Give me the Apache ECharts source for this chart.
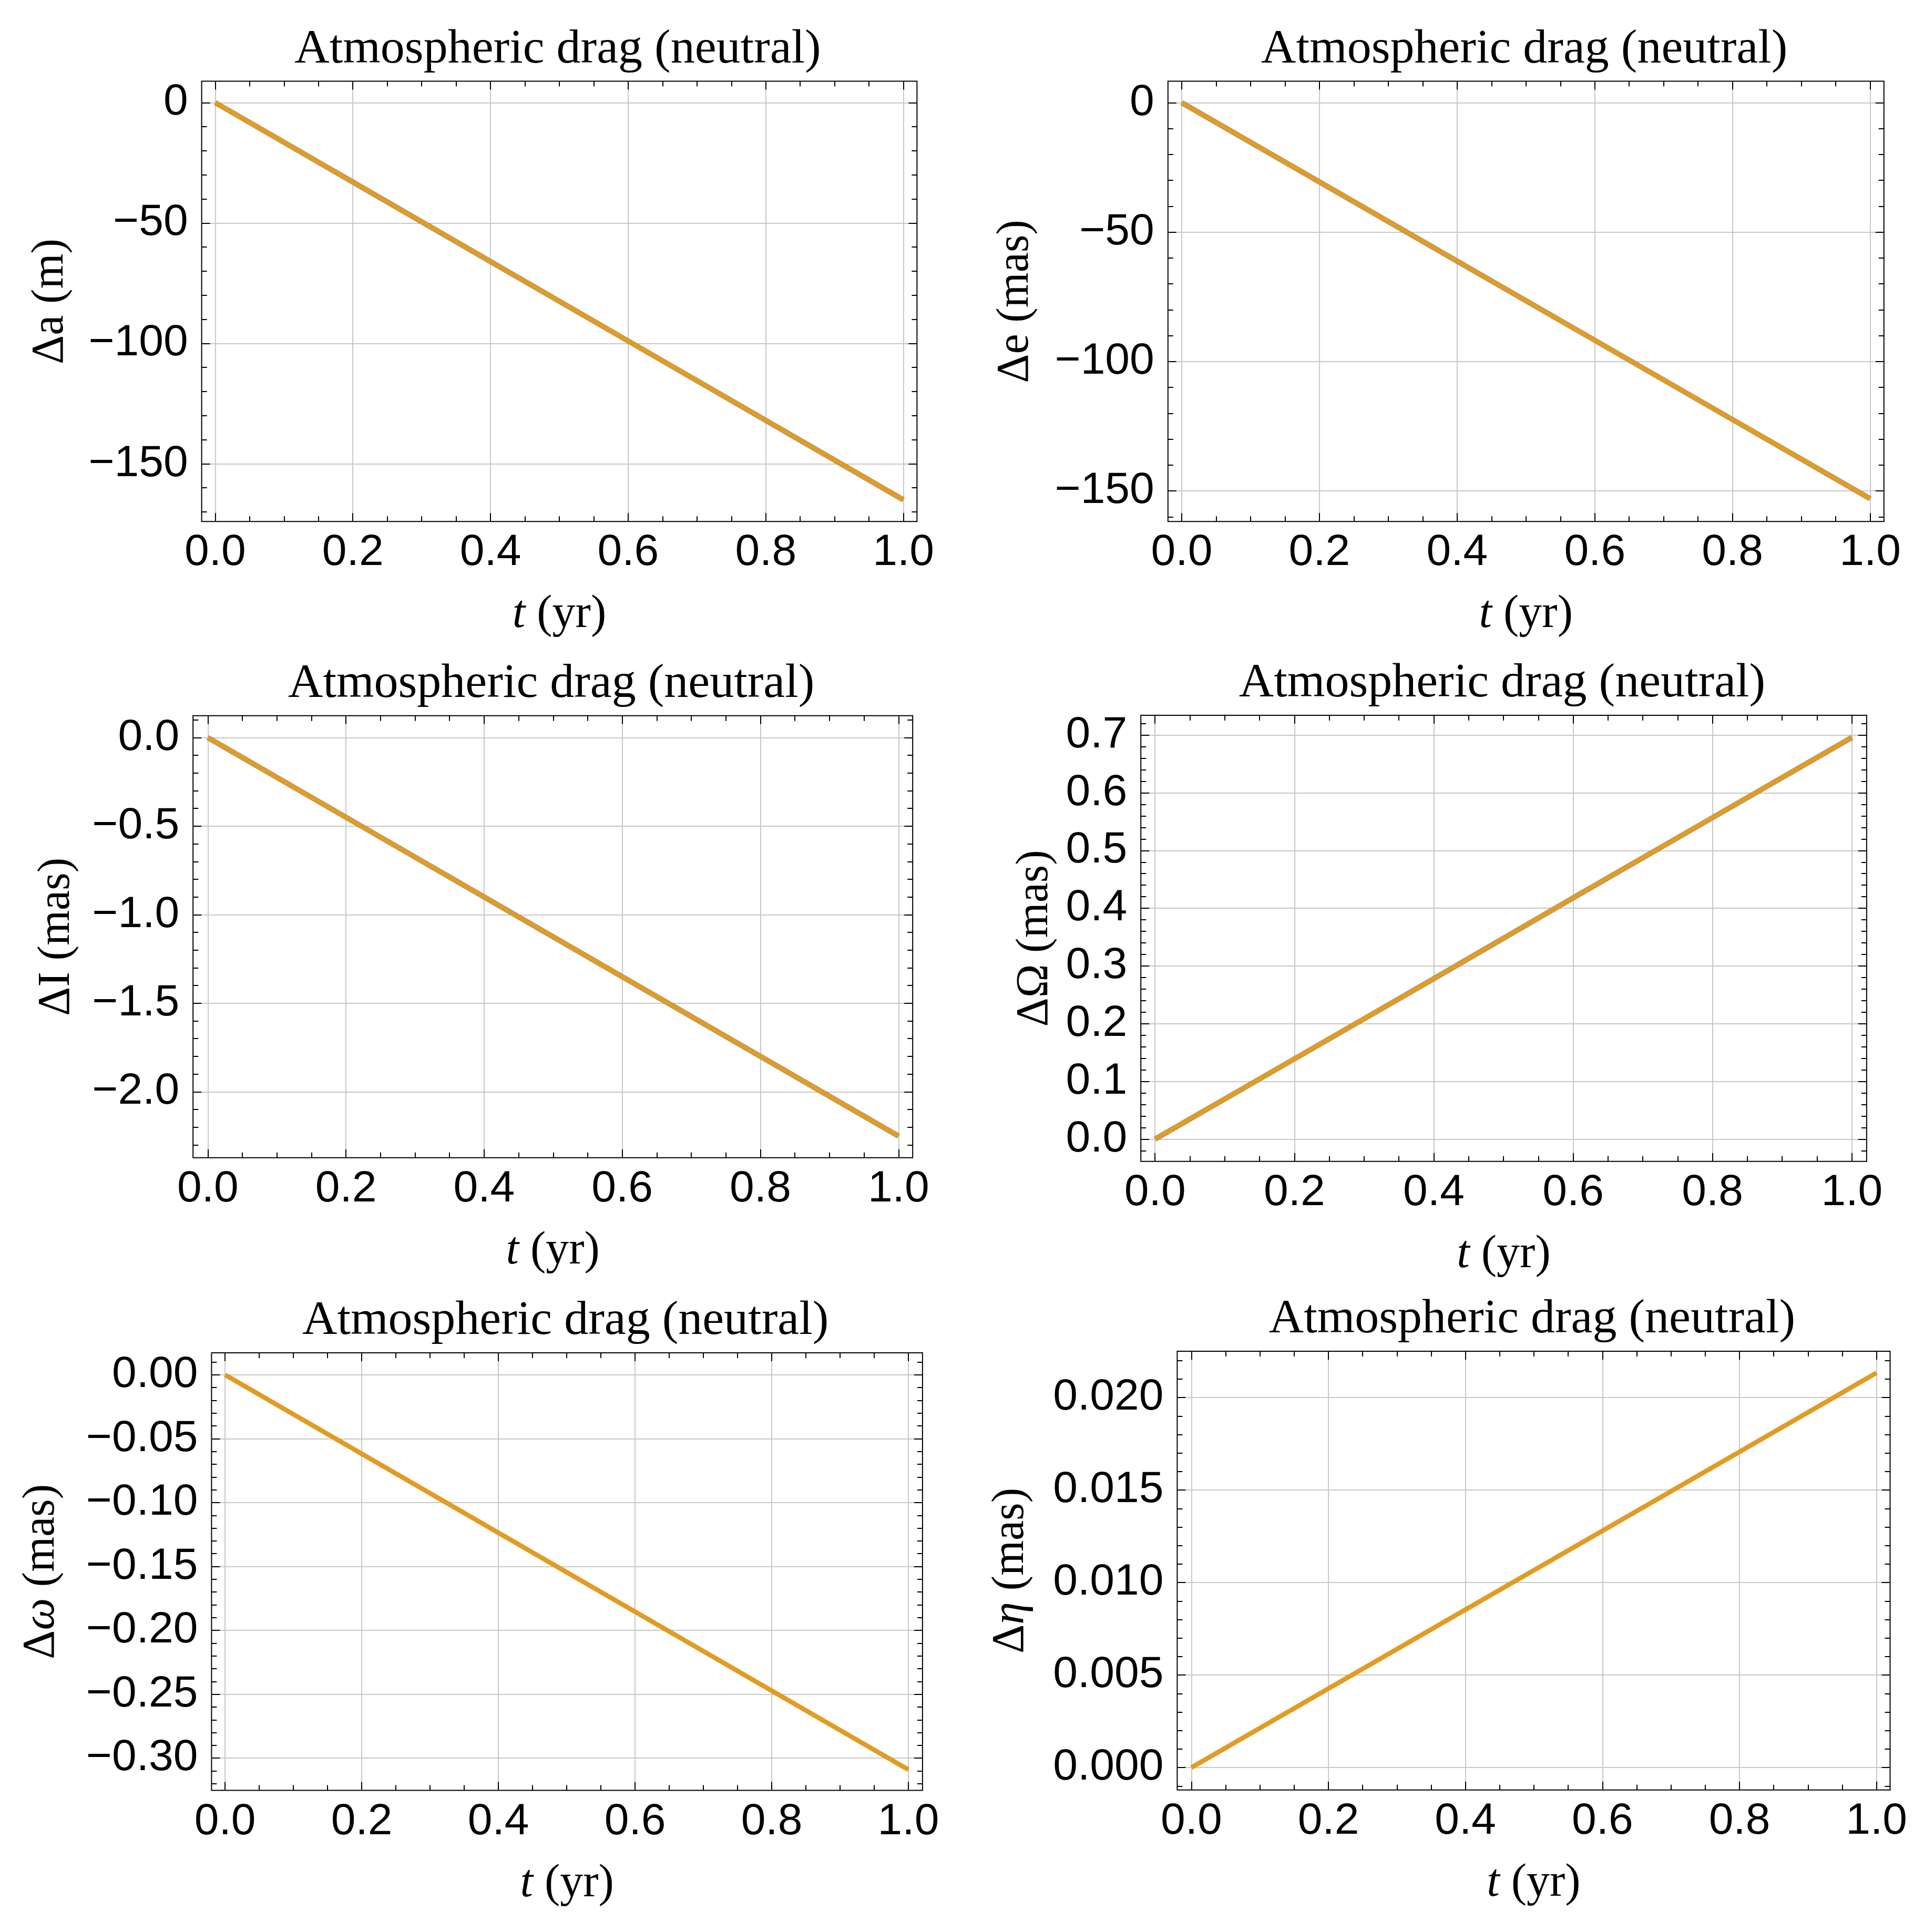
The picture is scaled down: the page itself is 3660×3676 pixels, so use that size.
<!DOCTYPE html>
<html>
<head>
<meta charset="utf-8">
<script src="https://cdn.jsdelivr.net/npm/echarts@6/dist/echarts.min.js"></script>
<style>html,body{margin:0;padding:0;background:#fff}#c{width:3660px;height:3676px}</style>
</head>
<body>
<div id="c"></div>
<script>
// ---- data ----
const tYears     = [0, 0.2, 0.4, 0.6, 0.8, 1.0];
const deltaA     = [0, -33.0, -66.0, -99.0, -132.0, -165.0];
const deltaE     = [0, -30.6, -61.2, -91.8, -122.4, -153.0];
const deltaI     = [0, -0.45, -0.90, -1.35, -1.80, -2.25];
const deltaNode  = [0, 0.139, 0.278, 0.418, 0.557, 0.696];
const deltaPeri  = [0, -0.0618, -0.1236, -0.1854, -0.2472, -0.309];
const deltaEta   = [0, 0.00427, 0.00854, 0.0128, 0.01707, 0.02134];

// ---- tick labels ----
const xTicks      = [0, 0.2, 0.4, 0.6, 0.8, 1.0];
const yTicksA     = [-150, -100, -50, 0];
const yTicksE     = [-150, -100, -50, 0];
const yTicksI     = [-2.0, -1.5, -1.0, -0.5, 0.0];
const yTicksNode  = [0, 0.1, 0.2, 0.3, 0.4, 0.5, 0.6, 0.7];
const yTicksPeri  = [-0.30, -0.25, -0.20, -0.15, -0.10, -0.05, 0];
const yTicksEta   = [0, 0.005, 0.010, 0.015, 0.020];

const panelTitle = 'Atmospheric drag (neutral)';
const xName = '{i|t} (yr)';
const yNames = ['\u0394a (m)', '\u0394e (mas)', '\u0394I (mas)', '\u0394\u03A9 (mas)', '\u0394{i|\u03C9} (mas)', '\u0394{i|\u03B7} (mas)'];

// ---- layout / style of each panel ----
const panels = [
  {L: 383.6, T: 154.5, R: 1744.4, B: 992.3, xr: [-0.0197, 1.0197], yr: [-174.0, 8.9],   data: deltaA,    ticks: yTicksA,    dec: 0, minor: 10,    gap: 244, blue: true},
  {L: 2221.8, T: 154.5, R: 3583.8, B: 992.3, xr: [-0.02, 1.02],    yr: [-161.8, 8.3],   data: deltaE,    ticks: yTicksE,    dec: 0, minor: 10,    gap: 246, blue: true},
  {L: 367.2, T: 1361.8, R: 1736.2, B: 2202.7, xr: [-0.0214, 1.0205], yr: [-2.372, 0.1234], data: deltaI,  ticks: yTicksI,    dec: 1, minor: 0.1,   gap: 216, blue: true},
  {L: 2170.2, T: 1361.0, R: 3550.9, B: 2209.7, xr: [-0.0204, 1.0212], yr: [-0.0385, 0.7343], data: deltaNode, ticks: yTicksNode, dec: 1, minor: 0.02, gap: 158, blue: true},
  {L: 402.4, T: 2574.0, R: 1754.9, B: 3406.5, xr: [-0.0198, 1.0207], yr: [-0.3252, 0.01719], data: deltaPeri, ticks: yTicksPeri, dec: 2, minor: 0.01, gap: 280, blue: false},
  {L: 2239.4, T: 2570.9, R: 3595.5, B: 3405.7, xr: [-0.0207, 1.0198], yr: [-0.00121, 0.02251], data: deltaEta, ticks: yTicksEta, dec: 3, minor: 0.001, gap: 273, blue: false}
];

const SANS = 'Liberation Sans, Arial, Helvetica, sans-serif';
const SERIF = 'Liberation Serif, Times New Roman, Times, serif';

function minorValues(range, step) {
  const out = [];
  const start = Math.ceil(range[0] / step - 1e-9);
  const end = Math.floor(range[1] / step + 1e-9);
  for (let k = start; k <= end; k++) out.push(+(k * step).toFixed(8));
  return out;
}
function fmt(dec) {
  return function (v) {
    let s = Number(v).toFixed(dec);
    if (parseFloat(s) === 0) s = (0).toFixed(dec);
    return s.replace('-', '\u2212');
  };
}

const option = {
  backgroundColor: '#ffffff',
  animation: false,
  title: [], grid: [], xAxis: [], yAxis: [], series: []
};

panels.forEach(function (p, i) {
  option.grid.push({
    left: p.L, top: p.T, width: p.R - p.L, height: p.B - p.T,
    show: true, borderColor: '#000', borderWidth: 2, backgroundColor: 'transparent',
    containLabel: false, outerBoundsMode: 'none'
  });
  option.title.push({
    text: panelTitle, left: (p.L + p.R) / 2 - 3, top: p.T - 60,
    textAlign: 'center', textVerticalAlign: 'middle', padding: 0,
    textStyle: {fontFamily: SERIF, fontSize: 92, fontWeight: 'normal', color: '#000'}
  });
  function base(range, extra) {
    return Object.assign({
      type: 'value', gridIndex: i, min: range[0], max: range[1],
      axisLine: {show: false, onZero: false},
      axisLabel: {show: false},
      splitLine: {show: false},
      minorTick: {show: false}, minorSplitLine: {show: false},
      axisPointer: {show: false}, silent: true, nameMoveOverlap: false
    }, extra);
  }
  const xMinor = minorValues(p.xr, 0.05);
  const yMinor = minorValues(p.yr, p.minor);
  const majTick = function (vals) { return {show: true, inside: true, length: 16, customValues: vals, lineStyle: {color: '#000', width: 2}}; };
  const minTick = function (vals) { return {show: true, inside: true, length: 10, customValues: vals, lineStyle: {color: '#000', width: 2}}; };

  // x axes
  option.xAxis.push(base(p.xr, {
    position: 'bottom',
    axisTick: majTick(xTicks),
    axisLabel: {show: true, customValues: xTicks, formatter: fmt(1), fontFamily: SANS, fontSize: 84, color: '#000', margin: 18},
    splitLine: {show: true, lineStyle: {color: '#c8c8c8', width: 2}},
    name: xName, nameLocation: 'middle', nameGap: 134,
    nameTextStyle: {fontFamily: SERIF, fontSize: 88, color: '#000',
      rich: {i: {fontFamily: SERIF, fontSize: 88, fontStyle: 'italic', color: '#000'}}}
  }));
  option.xAxis.push(base(p.xr, {position: 'bottom', axisTick: minTick(xMinor)}));
  option.xAxis.push(base(p.xr, {position: 'top', axisTick: majTick(xTicks)}));
  option.xAxis.push(base(p.xr, {position: 'top', axisTick: minTick(xMinor)}));

  // y axes
  option.yAxis.push(base(p.yr, {
    position: 'left',
    axisTick: majTick(p.ticks),
    axisLabel: {show: true, customValues: p.ticks, formatter: fmt(p.dec), fontFamily: SANS, fontSize: 84, color: '#000', margin: 26},
    splitLine: {show: true, lineStyle: {color: '#c8c8c8', width: 2}},
    name: yNames[i], nameLocation: 'middle', nameGap: p.gap, nameRotate: 90,
    nameTextStyle: {fontFamily: SERIF, fontSize: 86, color: '#000',
      rich: {i: {fontFamily: SERIF, fontSize: 86, fontStyle: 'italic', color: '#000'}}}
  }));
  option.yAxis.push(base(p.yr, {position: 'left', axisTick: minTick(yMinor)}));
  option.yAxis.push(base(p.yr, {position: 'right', axisTick: majTick(p.ticks)}));
  option.yAxis.push(base(p.yr, {position: 'right', axisTick: minTick(yMinor)}));

  const pts = tYears.map(function (t, k) { return [t, p.data[k]]; });
  if (p.blue) {
    option.series.push({
      type: 'line', xAxisIndex: i * 4, yAxisIndex: i * 4, data: pts,
      showSymbol: false, symbol: 'none', silent: true, z: 2,
      lineStyle: {color: '#5E81B5', width: 10}
    });
  }
  option.series.push({
    type: 'line', xAxisIndex: i * 4, yAxisIndex: i * 4, data: pts,
    showSymbol: false, symbol: 'none', silent: true, z: 3,
    lineStyle: {color: '#E19C24', width: 9}
  });
});

const chart = echarts.init(document.getElementById('c'), null, {renderer: 'canvas'});
chart.setOption(option);
</script>
</body>
</html>
